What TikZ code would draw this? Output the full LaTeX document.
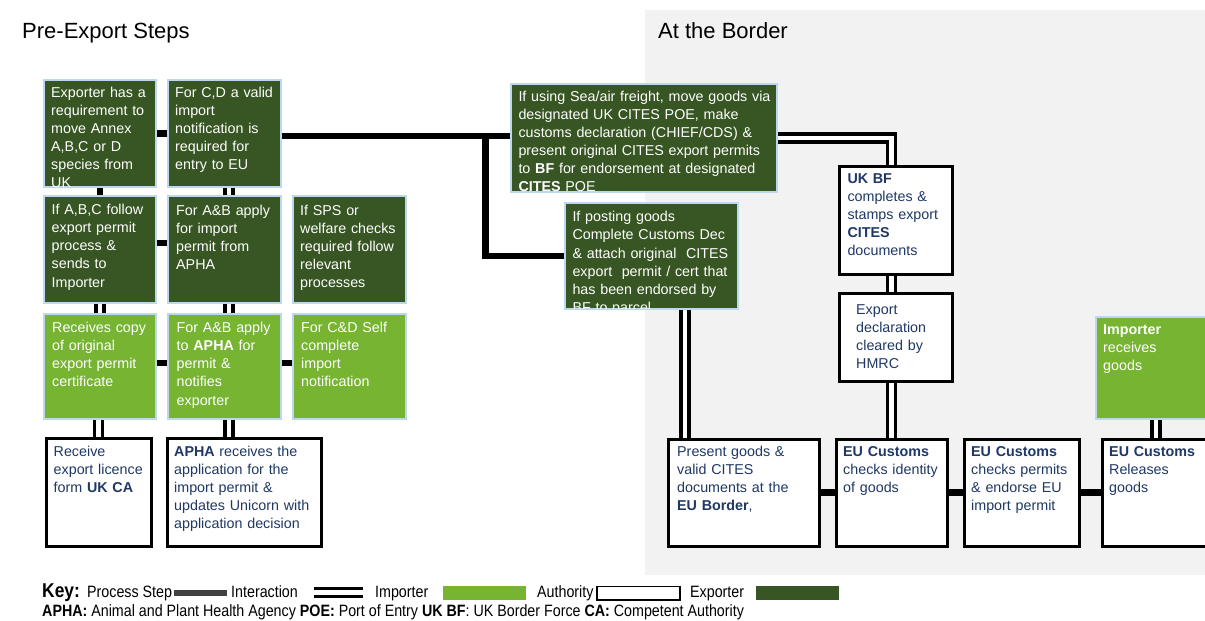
\documentclass[tikz,border=0pt]{standalone}
\usepackage{fontspec}
\setmainfont{Liberation Sans}
\newfontfamily\keyfont[FakeStretch=0.87]{Liberation Sans}
\definecolor{expg}{RGB}{55,86,35}
\definecolor{impg}{RGB}{118,180,50}
\definecolor{bblue}{RGB}{189,215,238}
\definecolor{navy}{RGB}{31,56,100}
\definecolor{bggray}{RGB}{242,242,242}
\definecolor{keybar}{RGB}{64,64,64}
\newcommand\bx[9]{%
  \node[#2, inner sep=0pt, minimum width={#5-#3-2}, minimum height={#6-#4-2}] (#1) at ({(#3+#5)/2},{(#4+#6)/2}) {};
  \begin{scope}
    \clip ({#3+1.5},{#4+1.5}) rectangle ({#5-1.5},{#6-1.5});
    \node[#2t, anchor=base west, text width={#5-#3-#7}] (#1t) at ({#3+#7},{#4+#8}) {#9};
  \end{scope}}
\begin{document}
\begin{tikzpicture}[x=1pt,y=-1pt,
  boxfont/.style={font=\fontsize{14.3}{18.1}\selectfont, align=left, inner sep=0pt},
  exp/.style={fill=expg, draw=bblue, line width=2pt},
  imp/.style={fill=impg, draw=bblue, line width=2pt},
  auth/.style={fill=white, draw=black, line width=3pt},
  expt/.style={boxfont, text=white},
  impt/.style={boxfont, text=white},
  autht/.style={boxfont, text=navy},
  proc/.style={line width=6.5pt, black},
  inter/.style={line width=3.5pt, draw=black, double=white, double distance=4.5pt},
  title/.style={font=\fontsize{22}{26}\selectfont, anchor=base west, inner sep=0pt},
  keyt/.style={font=\keyfont\fontsize{16.4}{19}\selectfont, anchor=base west, inner sep=0pt},
  keyb/.style={font=\keyfont\bfseries\fontsize{20}{22}\selectfont, anchor=base west, inner sep=0pt}]
\useasboundingbox (0,0) rectangle (1205,621);
\clip (0,0) rectangle (1205,621);
\fill[bggray] (645,10) rectangle (1215,575);
\node[title] (t1) at (22,38.5) {Pre-Export Steps};
\node[title] (t2) at (658,38) {At the Border};
% pre-export boxes
\bx{a1}{exp}{43}{79}{157}{188}{8}{18}{Exporter has a\\requirement to\\move Annex\\A,B,C or D\\species from\\UK}
\bx{a2}{exp}{167}{79}{282}{188}{8}{18}{For C,D a valid\\import\\notification is\\required for\\entry to EU}
\bx{b1}{exp}{43}{195}{157}{304}{8.5}{19.6}{If A,B,C follow\\export permit\\process \&\\sends to\\Importer}
\bx{b2}{exp}{167}{195}{282}{304}{9}{20}{For A\&B apply\\for import\\permit from\\APHA}
\bx{b3}{exp}{292}{195}{407}{304}{8}{20.3}{If SPS or\\welfare checks\\required follow\\relevant\\processes}
\bx{c1}{imp}{43}{313}{157}{420}{9}{19.6}{Receives copy\\of original\\export permit\\certificate}
\bx{c2}{imp}{167}{313}{282}{420}{9.5}{19.6}{For A\&B apply\\to \textbf{APHA} for\\permit \&\\notifies\\exporter}
\bx{c3}{imp}{292}{313}{407}{420}{9}{19.6}{For C\&D Self\\complete\\import\\notification}
\bx{d1}{auth}{45}{437}{152}{547}{8.5}{19.3}{Receive\\export licence\\form \textbf{UK CA}}
\bx{d2}{auth}{166}{437}{322}{547}{8}{19.3}{\textbf{APHA} receives the\\application for the\\import permit \&\\updates Unicorn with\\application decision}
% border boxes
\bx{sea}{exp}{510}{83}{778}{193}{8.3}{18.3}{If using Sea/air freight, move goods via\\designated UK CITES POE, make\\customs declaration (CHIEF/CDS) \&\\present original CITES export permits\\to \textbf{BF} for endorsement at designated\\\textbf{CITES} POE}
\bx{post}{exp}{564}{202}{739}{310}{8.3}{19.8}{If posting goods\\Complete Customs Dec\\\& attach original\ \ CITES\\export\ \ permit / cert that\\has been endorsed by\\BF to parcel.}
\bx{ukbf}{auth}{838}{165}{953}{275}{9.3}{18}{\textbf{UK BF}\\completes \&\\stamps export\\\textbf{CITES}\\documents}
\bx{exd}{auth}{838}{292}{953}{382}{18}{22.3}{Export\\declaration\\cleared by\\HMRC}
\bx{impr}{imp}{1095}{316}{1215}{420}{8}{18.3}{\textbf{Importer}\\receives\\goods}
\bx{pres}{auth}{667}{438}{820}{547}{10}{18}{Present goods \&\\valid CITES\\documents at the\\\textbf{EU Border},}
\bx{idn}{auth}{835}{438}{948}{547}{8}{18}{\textbf{EU Customs}\\checks identity\\of goods}
\bx{perm}{auth}{963}{438}{1080}{547}{8}{18}{\textbf{EU Customs}\\checks permits\\\& endorse EU\\import permit}
\bx{rel}{auth}{1101}{438}{1215}{547}{8}{18}{\textbf{EU Customs}\\Releases\\goods}
% connectors
\coordinate (cx) at (229,0);
\coordinate (by) at (0,243);
\coordinate (cy) at (0,363);
\coordinate (j1) at (485.5,136);
\coordinate (px) at (685,0);
\coordinate (rx) at (1156,0);
\draw[proc] (a1) -- (a2);
\draw[proc] (a1) -- (b1);
\draw[inter] (a2.south -| cx) -- (b2.north -| cx);
\draw[proc] (b1.east |- by) -- (b2.west |- by);
\draw[inter] (b1) -- (c1);
\draw[inter] (b2.south -| cx) -- (c2.north -| cx);
\draw[proc] (c1.east |- cy) -- (c2.west |- cy);
\draw[proc] (c2.east |- cy) -- (c3.west |- cy);
\draw[inter] (c1.south -| d1.north) -- (d1.north);
\draw[inter] (c2.south -| cx) -- (d2.north -| cx);
\draw[proc] (a2.east |- j1) -- (sea.west |- j1);
\draw[proc] (j1) |- (post.west);
\draw[inter] (sea.east) -| (ukbf.north -| idn.north);
\draw[inter] (ukbf.south -| idn.north) -- (exd.north -| idn.north);
\draw[inter] (exd.south -| idn.north) -- (idn.north);
\draw[inter] (post.south -| px) -- (pres.north -| px);
\draw[inter] (impr.south -| rx) -- (rel.north -| rx);
\draw[proc] (pres) -- (idn);
\draw[proc] (idn) -- (perm);
\draw[proc] (perm) -- (rel);
% key
\node[keyb] (k0) at (42,597) {Key:};
\node[keyt] (k1) at (87,597) {Process Step};
\fill[keybar] (174,590) rectangle (227,595.5);
\node[keyt] (k2) at (231,597) {Interaction};
\draw[inter] (314,592.5) -- (363,592.5);
\node[keyt] (k3) at (375,597) {Importer};
\fill[impg] (443,586) rectangle (526,600);
\node[keyt] (k4) at (537,597) {Authority};
\draw[black, line width=1.5pt, fill=white] (597,586.5) rectangle (680,600);
\node[keyt] (k5) at (690,597) {Exporter};
\fill[expg] (756,586) rectangle (839,600);
\node[keyt] (k6) at (42,616) {\textbf{APHA:} Animal and Plant Health Agency \textbf{POE:} Port of Entry \textbf{UK BF}: UK Border Force \textbf{CA:} Competent Authority};
\end{tikzpicture}
\end{document}
